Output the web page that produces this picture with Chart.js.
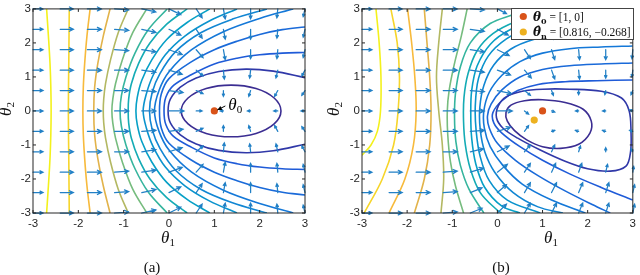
<!DOCTYPE html>
<html>
<head>
<meta charset="utf-8">
<script src="https://cdn.jsdelivr.net/npm/chart.js@4.4.1/dist/chart.umd.min.js"></script>
<style>
  html, body { margin: 0; padding: 0; background: #fff; }
  #wrap { position: relative; width: 640px; height: 275px; }
  canvas { position: absolute; top: 0; }
</style>
</head>
<body>
<div id="wrap">
  <canvas id="chartA" width="320" height="275" style="left:0"></canvas>
  <canvas id="chartB" width="320" height="275" style="left:320px"></canvas>
</div>
<script>
// axis ticks
const tickValues = [-3, -2, -1, 0, 1, 2, 3];
const tickLabels = ['-3', '-2', '-1', '0', '1', '2', '3'];

// quiver grid
const gridX = [-3, -2.4, -1.8, -1.2, -0.6, 0, 0.6, 1.2, 1.8, 2.4, 3];
const gridY = [3, 2.4, 1.8, 1.2, 0.6, 0, -0.6, -1.2, -1.8, -2.4, -3];

// the two points
const thetaTrue = [1, 0];
const thetaHat = [0.816, -0.268];

// contour levels, innermost first
// closed ones repeat their last point in front and their first two at the end
const closedA = 1;
const contoursA = [
  [[0.82,0.66],[1.37,0.76],[1.92,0.66],[2.32,0.38],[2.47,0],[2.32,-0.38],[1.92,-0.66],[1.37,-0.76],[0.82,-0.66],[0.42,-0.38],[0.27,0],[0.42,0.38],[0.82,0.66],[1.37,0.76],[1.92,0.66]],
  [[3.0,0.98],[2.3,1.17],[1.7,1.23],[1.1,1.16],[0.6,0.97],[0.25,0.7],[0.03,0.35],[-0.02,0],[0.03,-0.35],[0.25,-0.7],[0.6,-0.97],[1.1,-1.16],[1.7,-1.23],[2.3,-1.17],[3.0,-0.98]],
  [[3,1.72],[2.5,1.7],[2,1.65],[1.5,1.55],[1,1.38],[0.5,1.07],[0.1,0.75],[-0.07,0.4],[-0.11,0],[-0.07,-0.4],[0.1,-0.75],[0.5,-1.07],[1,-1.38],[1.5,-1.55],[2,-1.65],[2.5,-1.7],[3,-1.72]],
  [[3,2.47],[2.5,2.39],[2,2.25],[1.5,2.05],[1,1.8],[0.5,1.45],[0,0.95],[-0.17,0.5],[-0.21,0],[-0.17,-0.5],[0,-0.95],[0.5,-1.45],[1,-1.8],[1.5,-2.05],[2,-2.25],[2.5,-2.39],[3,-2.47]],
  [[2.74,3],[2.0,2.72],[1.2,2.33],[0.5,1.8],[0.0,1.15],[-0.22,0.6],[-0.32,0],[-0.22,-0.6],[0.0,-1.15],[0.5,-1.8],[1.2,-2.33],[2.0,-2.72],[2.74,-3]],
  [[2.16,3],[1.4,2.7],[0.7,2.3],[0.15,1.75],[-0.2,1.1],[-0.37,0.55],[-0.43,0],[-0.37,-0.55],[-0.2,-1.1],[0.15,-1.75],[0.7,-2.3],[1.4,-2.7],[2.16,-3]],
  [[1.5,3],[0.9,2.65],[0.35,2.2],[-0.08,1.65],[-0.35,1.05],[-0.5,0.5],[-0.57,0],[-0.5,-0.5],[-0.35,-1.05],[-0.08,-1.65],[0.35,-2.2],[0.9,-2.65],[1.5,-3]],
  [[0.9,3],[0.4,2.6],[-0.05,2.1],[-0.38,1.5],[-0.6,0.9],[-0.7,0.4],[-0.73,0],[-0.7,-0.4],[-0.6,-0.9],[-0.38,-1.5],[-0.05,-2.1],[0.4,-2.6],[0.9,-3]],
  [[0.4,3],[-0.05,2.55],[-0.42,2.0],[-0.67,1.4],[-0.83,0.8],[-0.89,0.35],[-0.9,0],[-0.89,-0.35],[-0.83,-0.8],[-0.67,-1.4],[-0.42,-2.0],[-0.05,-2.55],[0.4,-3]],
  [[-0.04,3],[-0.45,2.4],[-0.75,1.7],[-0.95,1.0],[-1.05,0.45],[-1.08,0],[-1.05,-0.45],[-0.95,-1.0],[-0.75,-1.7],[-0.45,-2.4],[-0.04,-3]],
  [[-0.49,3],[-0.8,2.3],[-1.03,1.5],[-1.18,0.8],[-1.24,0.35],[-1.26,0],[-1.24,-0.35],[-1.18,-0.8],[-1.03,-1.5],[-0.8,-2.3],[-0.49,-3]],
  [[-0.9,3],[-1.12,2.3],[-1.29,1.5],[-1.4,0.8],[-1.44,0.35],[-1.45,0],[-1.44,-0.35],[-1.4,-0.8],[-1.29,-1.5],[-1.12,-2.3],[-0.9,-3]],
  [[-1.3,3],[-1.45,2.2],[-1.57,1.4],[-1.64,0.7],[-1.66,0],[-1.64,-0.7],[-1.57,-1.4],[-1.45,-2.2],[-1.3,-3]],
  [[-1.74,3],[-1.81,2.2],[-1.86,1.4],[-1.89,0.7],[-1.9,0],[-1.89,-0.7],[-1.86,-1.4],[-1.81,-2.2],[-1.74,-3]],
  [[-2.2,3],[-2.21,1.5],[-2.22,0],[-2.21,-1.5],[-2.2,-3]],
  [[-2.7,3],[-2.66,2.2],[-2.625,1.4],[-2.607,0.7],[-2.6,0],[-2.607,-0.7],[-2.625,-1.4],[-2.66,-2.2],[-2.7,-3]]
];

const closedB = 2;
const contoursB = [
  [[0.38,-0.58],[0.22,-0.3],[0.19,-0.05],[0.3,0.17],[0.6,0.3],[1.0,0.33],[1.5,0.25],[1.9,0.05],[2.08,-0.3],[2.05,-0.65],[1.8,-0.98],[1.4,-1.1],[1.0,-1.05],[0.65,-0.85],[0.38,-0.58],[0.22,-0.3],[0.19,-0.05]],
  [[0.12,-0.5],[-0.02,-0.2],[0.02,0.15],[0.2,0.42],[0.55,0.58],[1.0,0.64],[1.6,0.64],[2.3,0.58],[2.75,0.38],[2.92,0.0],[2.96,-0.6],[2.95,-1.2],[2.85,-1.62],[2.5,-1.77],[2.0,-1.7],[1.5,-1.48],[0.95,-1.15],[0.45,-0.8],[0.12,-0.5],[-0.02,-0.2],[0.02,0.15]],
  [[3,0.91],[2.2,0.89],[1.5,0.86],[0.9,0.78],[0.45,0.6],[0.1,0.3],[-0.1,-0.05],[-0.08,-0.35],[0.1,-0.65],[0.5,-1.05],[1.0,-1.45],[1.6,-1.85],[2.3,-2.25],[3,-2.62]],
  [[3,1.41],[2.3,1.38],[1.6,1.33],[1.0,1.22],[0.5,1.0],[0.1,0.62],[-0.14,0.2],[-0.22,-0.15],[-0.18,-0.5],[0.0,-0.95],[0.4,-1.45],[0.9,-1.9],[1.5,-2.35],[2.1,-2.75],[2.5,-3]],
  [[3,1.91],[2.3,1.88],[1.6,1.83],[1.0,1.7],[0.5,1.45],[0.1,1.05],[-0.18,0.55],[-0.3,0.0],[-0.29,-0.5],[-0.16,-1.05],[0.12,-1.6],[0.55,-2.15],[1.2,-2.62],[1.95,-3]],
  [[3,2.35],[2.2,2.32],[1.4,2.25],[0.8,2.1],[0.3,1.82],[-0.08,1.35],[-0.3,0.75],[-0.39,0.1],[-0.38,-0.55],[-0.28,-1.2],[-0.06,-1.8],[0.35,-2.4],[0.9,-2.82],[1.45,-3]],
  [[3,2.8],[2.2,2.75],[1.4,2.63],[0.7,2.43],[0.2,2.12],[-0.2,1.62],[-0.42,0.95],[-0.49,0.15],[-0.47,-0.6],[-0.38,-1.35],[-0.18,-2.05],[0.22,-2.62],[0.95,-3]],
  [[2.5,3],[1.6,2.87],[0.9,2.68],[0.3,2.4],[-0.15,1.97],[-0.45,1.32],[-0.57,0.6],[-0.59,-0.1],[-0.57,-0.8],[-0.48,-1.55],[-0.28,-2.25],[0.1,-2.8],[0.5,-3]],
  [[1.8,3],[1.0,2.85],[0.4,2.62],[-0.1,2.27],[-0.45,1.77],[-0.65,1.1],[-0.74,0.4],[-0.75,-0.3],[-0.71,-1.0],[-0.6,-1.7],[-0.38,-2.4],[0.0,-2.92],[0.1,-3]],
  [[0.6,3],[0.4,2.86],[-0.16,2.57],[-0.6,2.0],[-0.82,1.3],[-0.93,0.5],[-0.95,-0.2],[-0.92,-0.9],[-0.82,-1.6],[-0.63,-2.3],[-0.3,-3]],
  [[-0.67,3],[-0.8,2.2],[-0.95,1.4],[-1.07,0.6],[-1.11,0],[-1.1,-0.7],[-1.04,-1.5],[-0.93,-2.2],[-0.75,-3]],
  [[-1.22,3],[-1.3,2],[-1.35,1],[-1.3,0],[-1.22,-1],[-1.19,-2],[-1.25,-3]],
  [[-1.62,3],[-1.56,2],[-1.5,1],[-1.47,0],[-1.5,-1],[-1.62,-2],[-1.84,-3]],
  [[-1.99,3],[-1.9,2],[-1.83,1],[-1.8,0],[-1.86,-1],[-2.05,-2],[-2.4,-3]],
  [[-2.36,3],[-2.22,2],[-2.17,1],[-2.2,0],[-2.3,-1],[-2.55,-2],[-2.95,-3]],
  [[-2.69,3],[-2.62,2],[-2.58,1],[-2.59,0],[-2.66,-0.6],[-2.8,-1.0],[-3.0,-1.3]]
];

// quiver components (rows follow gridY, columns follow gridX)
const quiverAU = [
  [0.22,0.29,0.31,0.31,0.31,0.26,0.13,0.04,0,-0.02,-0.04],
  [0.22,0.29,0.31,0.31,0.31,0.26,0.13,0.04,0,-0.02,-0.04],
  [0.22,0.29,0.31,0.31,0.31,0.29,0.15,0.04,0,-0.02,-0.04],
  [0.22,0.29,0.31,0.31,0.31,0.29,0.15,0.02,-0.02,-0.04,-0.07],
  [0.22,0.29,0.31,0.31,0.31,0.31,0.15,0,-0.04,-0.07,-0.07],
  [0.22,0.29,0.31,0.31,0.31,0.33,0.13,-0.07,-0.07,-0.09,-0.09],
  [0.22,0.29,0.31,0.31,0.31,0.31,0.15,0,-0.04,-0.07,-0.07],
  [0.22,0.29,0.31,0.31,0.31,0.29,0.15,0.02,-0.02,-0.04,-0.07],
  [0.22,0.29,0.31,0.31,0.31,0.29,0.15,0.04,0,-0.02,-0.04],
  [0.22,0.29,0.31,0.31,0.31,0.26,0.13,0.04,0,-0.02,-0.04],
  [0.22,0.29,0.31,0.31,0.31,0.26,0.13,0.04,0,-0.02,-0.04]
];
const quiverAV = [
  [0,0,0,-0.03,-0.09,-0.17,-0.26,-0.29,-0.29,-0.26,-0.23],
  [0,0,0,-0.03,-0.09,-0.17,-0.26,-0.29,-0.29,-0.26,-0.23],
  [0,0,0,-0.03,-0.06,-0.14,-0.23,-0.29,-0.26,-0.26,-0.23],
  [0,0,0,0,-0.06,-0.12,-0.17,-0.26,-0.23,-0.23,-0.17],
  [0,0,0,0,-0.03,-0.06,-0.09,-0.17,-0.17,-0.17,-0.14],
  [0,0,0,0,0,0,0,0,0,0,0],
  [0,0,0,0,0.03,0.06,0.09,0.17,0.17,0.17,0.14],
  [0,0,0,0,0.06,0.12,0.17,0.26,0.23,0.23,0.17],
  [0,0,0,0.03,0.06,0.14,0.23,0.29,0.26,0.26,0.23],
  [0,0,0,0.03,0.09,0.17,0.26,0.29,0.29,0.26,0.23],
  [0,0,0,0.03,0.09,0.17,0.26,0.29,0.29,0.26,0.23]
];
const quiverBU = [
  [0.22,0.29,0.31,0.31,0.31,0.2,0.07,0.02,0,-0.02,-0.02],
  [0.22,0.29,0.31,0.31,0.31,0.24,0.11,0.04,0,-0.02,-0.02],
  [0.22,0.29,0.31,0.31,0.31,0.26,0.13,0.07,0.02,0,-0.02],
  [0.22,0.29,0.31,0.31,0.31,0.29,0.15,0.07,0.02,0,-0.02],
  [0.22,0.29,0.31,0.31,0.31,0.31,0.13,0.04,0,-0.02,-0.04],
  [0.22,0.29,0.31,0.31,0.31,0.33,0.09,0.07,-0.07,-0.07,-0.07],
  [0.22,0.29,0.31,0.31,0.31,0.29,0.09,0.07,-0.07,-0.07,-0.07],
  [0.22,0.29,0.31,0.31,0.29,0.26,0.13,0.07,0.04,0,-0.04],
  [0.22,0.29,0.31,0.31,0.29,0.22,0.13,0.09,0.07,0.04,0.02],
  [0.22,0.29,0.31,0.31,0.26,0.2,0.13,0.11,0.09,0.07,0.04],
  [0.22,0.29,0.31,0.31,0.26,0.2,0.13,0.11,0.09,0.07,0.04]
];
const quiverBV = [
  [0,0,0,0,-0.03,-0.14,-0.23,-0.26,-0.26,-0.26,-0.23],
  [0,0,0,0,-0.06,-0.17,-0.26,-0.29,-0.29,-0.26,-0.26],
  [0,0,0,0,-0.06,-0.17,-0.26,-0.29,-0.29,-0.29,-0.26],
  [0,0,0,0,-0.06,-0.14,-0.23,-0.26,-0.26,-0.23,-0.2],
  [0,0,0,0,-0.03,-0.09,-0.14,-0.14,-0.12,-0.12,-0.12],
  [0,0,0,0,0,0,-0.09,-0.03,0,0,0.03],
  [0,0,0,0,0.03,0.12,0.17,0.03,0.03,0.03,0.03],
  [0,0,0,0,0.09,0.17,0.2,0.2,0.17,0.12,0.09],
  [0,0,0,0.03,0.12,0.23,0.26,0.26,0.26,0.23,0.17],
  [0,0,0,0.03,0.14,0.23,0.29,0.29,0.29,0.29,0.23],
  [0,0,0,0.03,0.14,0.26,0.29,0.29,0.29,0.29,0.26]
];

// styles
const levelColors = ['#3B2D92','#3038A8','#1F5BD8','#1A6AD9','#1478D8','#1186D3','#0A93CD','#07A0C6',
                     '#14ABB5','#36B59E','#76BC7E','#B3B862','#E2B34A','#F7BA3C','#F6D52B','#F3F11C'];
const markerColors = ['#D95319', '#EDB120'];
const arrowColor = '#2180C6';
const axisColor = '#262626';
const serif = 'Liberation Serif';

function mathText(ctx, x, y, parts, align) {
  let w = 0;
  parts.forEach(p => { ctx.font = p[1]; w += ctx.measureText(p[0]).width; });
  let cx = align === 'center' ? x - w / 2 : x;
  parts.forEach(p => {
    ctx.font = p[1];
    ctx.fillText(p[0], cx, y + (p[2] || 0));
    cx += ctx.measureText(p[0]).width;
  });
}

const quiverPlugin = {
  id: 'quiver',
  beforeDatasetDraw(chart, args, opts) {
    if (!chart.data.datasets[args.index].isMarker) return;
    const {ctx, scales: {x, y}} = chart;
    ctx.save();
    ctx.strokeStyle = arrowColor;
    ctx.lineWidth = 1.25;
    ctx.lineCap = 'round';
    gridY.forEach((gy, r) => gridX.forEach((gx, c) => {
      const u = opts.u[r][c], v = opts.v[r][c];
      const x0 = x.getPixelForValue(gx), y0 = y.getPixelForValue(gy);
      const x1 = x.getPixelForValue(gx + u), y1 = y.getPixelForValue(gy + v);
      const len = Math.hypot(x1 - x0, y1 - y0);
      ctx.beginPath();
      ctx.moveTo(x0, y0);
      ctx.lineTo(x1, y1);
      if (len > 1) {
        const a = Math.atan2(y1 - y0, x1 - x0);
        const h = Math.min(4.5, Math.max(2.5, len * 0.33));
        ctx.moveTo(x1 - h * Math.cos(a - 0.45), y1 - h * Math.sin(a - 0.45));
        ctx.lineTo(x1, y1);
        ctx.lineTo(x1 - h * Math.cos(a + 0.45), y1 - h * Math.sin(a + 0.45));
      }
      ctx.stroke();
    }));
    ctx.restore();
  }
};

const framePlugin = {
  id: 'frame',
  afterDraw(chart, args, opts) {
    const {ctx, chartArea: a, scales: {x, y}} = chart;
    ctx.save();
    ctx.strokeStyle = axisColor;
    ctx.lineWidth = 1;
    ctx.strokeRect(a.left, a.top, a.right - a.left, a.bottom - a.top);
    ctx.beginPath();
    tickValues.forEach(v => {
      const px = x.getPixelForValue(v);
      ctx.moveTo(px, a.bottom); ctx.lineTo(px, a.bottom - 3);
      ctx.moveTo(px, a.top); ctx.lineTo(px, a.top + 3);
      const py = y.getPixelForValue(v);
      ctx.moveTo(a.left, py); ctx.lineTo(a.left + 3, py);
      ctx.moveTo(a.right, py); ctx.lineTo(a.right - 3, py);
    });
    ctx.stroke();
    // axis titles and caption
    ctx.fillStyle = '#111';
    ctx.textBaseline = 'alphabetic';
    mathText(ctx, opts.xTitleX, 243, [['θ', 'italic 17px ' + serif], ['1', '11px ' + serif, 3]], 'center');
    ctx.save();
    ctx.translate(opts.yTitleX, 109);
    ctx.rotate(-Math.PI / 2);
    mathText(ctx, 0, 0, [['θ', 'italic 17px ' + serif], ['2', '11px ' + serif, 3]], 'center');
    ctx.restore();
    ctx.font = '15px ' + serif;
    ctx.textAlign = 'center';
    ctx.fillText(opts.caption, opts.captionX, 272);
    ctx.restore();
  }
};

function makeChart(id, contours, closedCount, qu, qv, markers, yWidth, padRight, extra) {
  const datasets = contours.map((pts, i) => {
    const closed = i < closedCount;
    const n = pts.length;
    return {
      data: pts.map(p => ({x: p[0], y: p[1]})),
      showLine: true,
      borderColor: levelColors[i],
      borderWidth: 1.6,
      pointRadius: 0,
      tension: 0.35,
      order: 1,
      // closed rings: hide the helper segments at both ends
      segment: closed ? {
        borderColor: c => (c.p0DataIndex === 0 || c.p1DataIndex === n - 1) ? 'rgba(0,0,0,0)' : undefined
      } : undefined
    };
  });
  datasets.push({
    isMarker: true,
    data: markers.map(m => ({x: m[0], y: m[1]})),
    showLine: false,
    pointRadius: 3.6,
    pointHoverRadius: 3.6,
    pointBackgroundColor: markerColors.slice(0, markers.length),
    pointBorderWidth: 0,
    order: 0
  });
  const tickFont = {family: 'Liberation Sans', size: 11.5};
  return new Chart(document.getElementById(id), {
    type: 'scatter',
    data: {datasets},
    options: {
      responsive: false,
      animation: false,
      devicePixelRatio: 1,
      layout: {padding: {left: 0, right: padRight, top: 5, bottom: 0}, autoPadding: false},
      plugins: {
        legend: {display: false},
        tooltip: {enabled: false},
        quiver: {u: qu, v: qv},
        frame: extra.frame
      },
      scales: {
        x: {
          type: 'linear', min: -3, max: 3,
          afterBuildTicks: s => { s.ticks = tickValues.map(v => ({value: v})); },
          afterFit: s => { s.height = 62; },
          grid: {display: false, drawTicks: false},
          border: {display: false},
          ticks: {padding: 4, color: axisColor, font: tickFont, maxRotation: 0, autoSkip: false,
                  callback: v => tickLabels[tickValues.indexOf(v)]}
        },
        y: {
          type: 'linear', min: -3, max: 3,
          afterBuildTicks: s => { s.ticks = tickValues.map(v => ({value: v})); },
          afterFit: s => { s.width = yWidth; },
          grid: {display: false, drawTicks: false},
          border: {display: false},
          ticks: {padding: 2, color: axisColor, font: tickFont, autoSkip: false,
                  callback: v => tickLabels[tickValues.indexOf(v)]}
        }
      }
    },
    plugins: [quiverPlugin, framePlugin, extra.plugin]
  });
}

// annotation of panel (a)
const annotatePlugin = {
  id: 'annotateA',
  afterDraw(chart) {
    const {ctx, scales: {x, y}} = chart;
    const tx = x.getPixelForValue(thetaTrue[0]), ty = y.getPixelForValue(thetaTrue[1]);
    ctx.save();
    ctx.strokeStyle = '#000';
    ctx.fillStyle = '#000';
    ctx.lineWidth = 1;
    const sx = tx + 11, sy = ty - 5;
    const ex = tx + 3, ey = ty - 1;
    ctx.beginPath(); ctx.moveTo(sx, sy); ctx.lineTo(ex, ey); ctx.stroke();
    const a = Math.atan2(ey - sy, ex - sx);
    ctx.beginPath();
    ctx.moveTo(ex, ey);
    ctx.lineTo(ex - 5 * Math.cos(a - 0.45), ey - 5 * Math.sin(a - 0.45));
    ctx.lineTo(ex - 5 * Math.cos(a + 0.45), ey - 5 * Math.sin(a + 0.45));
    ctx.closePath(); ctx.fill();
    ctx.textBaseline = 'alphabetic';
    mathText(ctx, tx + 14, ty - 1, [['θ', 'italic 17px ' + serif], ['0', '11px ' + serif, 3]]);
    ctx.restore();
  }
};

// legend of panel (b)
const legendPlugin = {
  id: 'legendB',
  afterDraw(chart) {
    const {ctx} = chart;
    ctx.save();
    ctx.fillStyle = '#fff';
    ctx.strokeStyle = '#444';
    ctx.lineWidth = 1;
    ctx.fillRect(191.5, 8.5, 122, 31);
    ctx.strokeRect(191.5, 8.5, 122, 31);
    const rows = [
      [16.5, [['θ', 'bold italic 12px DejaVu Serif'], ['0', 'bold 8px DejaVu Serif', 3], [' = [1, 0]', '11.5px ' + serif]]],
      [32, [['θ\u0302', 'bold italic 12px DejaVu Serif'], ['n', 'bold 8px DejaVu Serif', 3], [' = [0.816, \u22120.268]', '11.5px ' + serif]]]
    ];
    rows.forEach((r, i) => {
      ctx.fillStyle = markerColors[i];
      ctx.beginPath(); ctx.arc(203.3, r[0], 3.6, 0, Math.PI * 2); ctx.fill();
      ctx.fillStyle = '#111';
      ctx.textBaseline = 'alphabetic';
      mathText(ctx, 213, r[0] + 4, r[1]);
    });
    ctx.restore();
  }
};

makeChart('chartA', contoursA, closedA, quiverAU, quiverAV, [thetaTrue], 33, 15,
  {plugin: annotatePlugin, frame: {xTitleX: 168, yTitleX: 11, caption: '(a)', captionX: 152}});
makeChart('chartB', contoursB, closedB, quiverBU, quiverBV, [thetaTrue, thetaHat], 42, 5,
  {plugin: legendPlugin, frame: {xTitleX: 231, yTitleX: 19, caption: '(b)', captionX: 181}});
</script>
</body>
</html>
